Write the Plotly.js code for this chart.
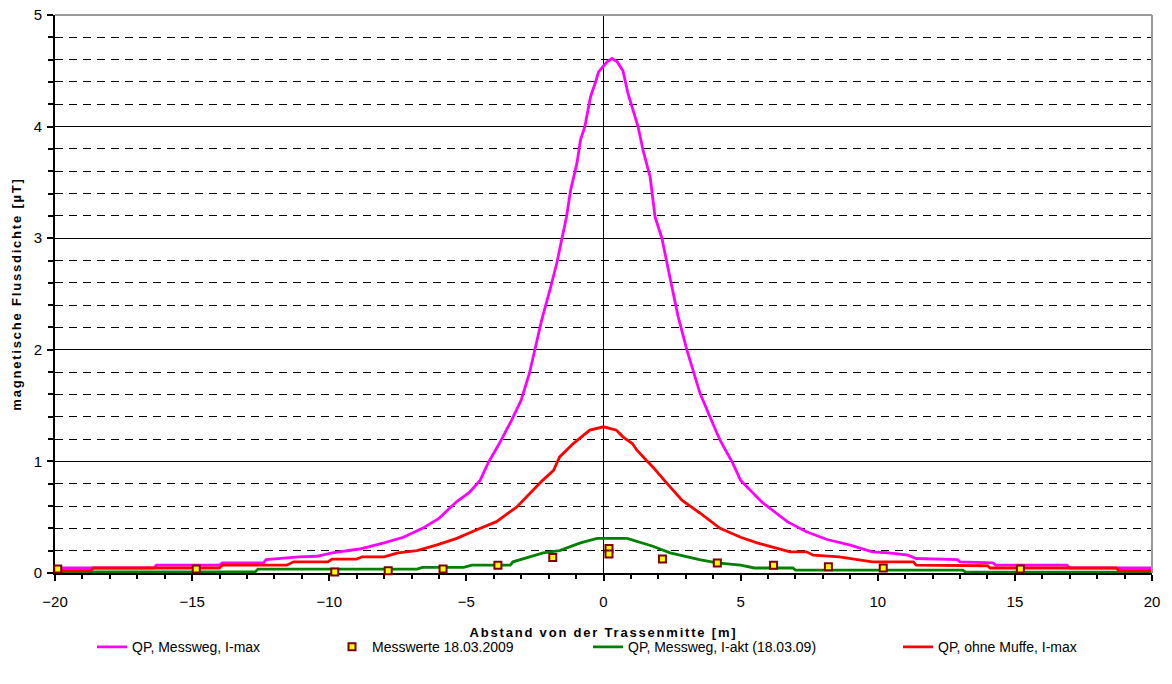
<!DOCTYPE html>
<html>
<head>
<meta charset="utf-8">
<script src="https://cdn.plot.ly/plotly-3.0.1.min.js"></script>
<style>
html,body{margin:0;padding:0;background:#fff;}
#chart{width:1172px;height:684px;}
#chart .xtitle, #chart .ytitle{letter-spacing:1.8px;}
</style>
</head>
<body>
<div id="chart"></div>
<script>
// Series names
const nameMagenta = "QP, Messweg, I-max";
const nameMeas = "Messwerte 18.03.2009";
const nameGreen = "QP, Messweg, I-akt (18.03.09)";
const nameRed = "QP, ohne Muffe, I-max";

// QP, Messweg, I-max
const xMagenta = [-20, -16.4, -16.3, -14, -13.9, -12.4, -12.3, -11.1, -10.45, -9.9, -8.9, -8.0, -7.3, -6.6, -6.0, -5.35, -4.9, -4.5, -4.2, -3.8, -3.35, -3.0, -2.7, -2.25, -1.95, -1.7, -1.35, -1.2, -0.97, -0.84, -0.68, -0.47, -0.3, -0.18, 0.13, 0.31, 0.5, 0.71, 0.89, 1.26, 1.44, 1.7, 1.88, 2.13, 2.42, 2.72, 3.04, 3.52, 3.88, 4.25, 4.72, 5.0, 5.8, 6.7, 7.4, 8.15, 9.0, 9.8, 10.4, 11.1, 11.4, 12.9, 13.0, 14.2, 14.3, 16.9, 17.0, 20];
const yMagenta = [0.045, 0.045, 0.07, 0.07, 0.09, 0.09, 0.12, 0.145, 0.15, 0.18, 0.215, 0.27, 0.32, 0.40, 0.49, 0.64, 0.72, 0.83, 0.99, 1.16, 1.37, 1.55, 1.79, 2.27, 2.54, 2.78, 3.19, 3.43, 3.67, 3.88, 4.0, 4.27, 4.39, 4.49, 4.58, 4.61, 4.58, 4.5, 4.3, 4.0, 3.79, 3.55, 3.19, 3.0, 2.65, 2.3, 2.0, 1.61, 1.40, 1.19, 0.98, 0.83, 0.63, 0.46, 0.37, 0.30, 0.25, 0.19, 0.18, 0.16, 0.13, 0.12, 0.10, 0.09, 0.07, 0.07, 0.045, 0.045];

// QP, ohne Muffe, I-max
const xRed = [-20, -18.7, -18.6, -14.0, -13.9, -11.55, -11.3, -10.05, -9.9, -9.0, -8.8, -8.0, -7.5, -6.8, -6.1, -5.35, -4.6, -3.9, -3.4, -3.17, -2.22, -1.82, -1.6, -1.1, -0.5, 0.0, 0.47, 0.71, 1.05, 1.22, 1.56, 1.8, 2.29, 2.87, 3.5, 4.25, 5.0, 5.6, 6.2, 6.8, 7.4, 7.65, 8.6, 9.8, 11.3, 11.4, 14.0, 14.1, 18.7, 18.8, 20];
const yRed = [0.02, 0.02, 0.045, 0.045, 0.07, 0.07, 0.10, 0.10, 0.125, 0.125, 0.145, 0.145, 0.18, 0.20, 0.25, 0.31, 0.39, 0.46, 0.55, 0.59, 0.83, 0.92, 1.04, 1.16, 1.28, 1.31, 1.28, 1.22, 1.16, 1.10, 1.01, 0.95, 0.81, 0.65, 0.54, 0.40, 0.32, 0.27, 0.23, 0.19, 0.19, 0.16, 0.145, 0.10, 0.10, 0.07, 0.065, 0.045, 0.045, 0.02, 0.02];

// QP, Messweg, I-akt (18.03.09)
const xGreen = [-20, -12.7, -12.6, -6.8, -6.6, -5.1, -4.8, -3.4, -3.3, -2.2, -1.6, -0.84, -0.23, 0.86, 1.8, 2.43, 3.5, 4.14, 5.0, 5.5, 6.9, 7.0, 13.1, 13.2, 20];
const yGreen = [0.01, 0.01, 0.035, 0.035, 0.05, 0.05, 0.07, 0.07, 0.10, 0.18, 0.20, 0.27, 0.31, 0.31, 0.24, 0.18, 0.12, 0.09, 0.07, 0.045, 0.045, 0.025, 0.025, 0.008, 0.008];

// Messwerte 18.03.2009
const xMeas = [-19.9, -14.85, -9.8, -7.85, -5.85, -3.85, -1.85, 0.2, 0.2, 2.15, 4.15, 6.2, 8.2, 10.2, 15.2];
const yMeas = [0.035, 0.035, 0.01, 0.02, 0.035, 0.07, 0.14, 0.22, 0.17, 0.125, 0.09, 0.07, 0.055, 0.045, 0.035];

const xTitle = "Abstand von der Trassenmitte [m]";
const yTitle = "magnetische Flussdichte [µT]";

const FONT = "Liberation Sans, Arial, sans-serif";

const traces = [
  {x: xMagenta, y: yMagenta, name: nameMagenta, mode: "lines", line: {color: "#FF00FF", width: 2.8}, legend: "legend", legendrank: 1},
  {x: xGreen, y: yGreen, name: nameGreen, mode: "lines", line: {color: "#008000", width: 2.8}, legend: "legend3", legendrank: 3},
  {x: xRed, y: yRed, name: nameRed, mode: "lines", line: {color: "#FF0000", width: 2.8}, legend: "legend4", legendrank: 4},
  {x: xMeas, y: yMeas, name: nameMeas, mode: "markers", cliponaxis: false,
   marker: {symbol: "square", size: 7, color: "#FFFF00", line: {color: "#800000", width: 2}}, legend: "legend2", legendrank: 2}
];

function lg(xpx) {
  return {x: (xpx - 55) / 1097, xanchor: "left", y: -0.133, yanchor: "middle", orientation: "h",
          bgcolor: "rgba(0,0,0,0)", borderwidth: 0, font: {family: FONT, size: 14, color: "#000"}};
}

const layout = {
  width: 1172, height: 684,
  margin: {l: 55, r: 20, t: 15, b: 111},
  paper_bgcolor: "#fff", plot_bgcolor: "#fff",
  font: {family: FONT, size: 14, color: "#000"},
  showlegend: true,
  legend: lg(92), legend2: lg(332), legend3: lg(588), legend4: lg(898),
  xaxis: {
    range: [-20, 20], dtick: 5, tick0: 0, showgrid: false,
    zeroline: true, zerolinecolor: "#000", zerolinewidth: 1,
    showline: true, linecolor: "#000", linewidth: 2, layer: "below traces",
    ticks: "outside", ticklen: 6, tickwidth: 2, tickcolor: "#000",
    minor: {dtick: 1, ticks: "outside", ticklen: 4, tickwidth: 2, tickcolor: "#000", showgrid: false},
    tickfont: {family: FONT, size: 15, color: "#000"},
    ticklabelstandoff: 8,
    title: {text: xTitle, font: {family: FONT, size: 13, color: "#000", weight: "bold"}, standoff: 19},
    fixedrange: true
  },
  yaxis: {
    range: [0, 5], dtick: 1, tick0: 0,
    showgrid: true, gridcolor: "#000", gridwidth: 1,
    zeroline: false,
    showline: true, linecolor: "#000", linewidth: 2, layer: "below traces",
    ticks: "outside", ticklen: 6, tickwidth: 2, tickcolor: "#000",
    minor: {dtick: 0.2, ticks: "outside", ticklen: 5, tickwidth: 2, tickcolor: "#000",
            showgrid: true, gridcolor: "#000", gridwidth: 1, griddash: "8px,6px"},
    tickfont: {family: FONT, size: 15, color: "#000"},
    ticklabelstandoff: 2,
    title: {text: yTitle, font: {family: FONT, size: 13, color: "#000", weight: "bold"}, standoff: 9},
    fixedrange: true
  },
  shapes: [
    {type: "line", xref: "paper", yref: "paper", x0: 0, x1: 1, y0: 1, y1: 1, line: {color: "#999", width: 2}},
    {type: "line", xref: "paper", yref: "paper", x0: 1, x1: 1, y0: 0, y1: 1, line: {color: "#999", width: 2}}
  ]
};

Plotly.newPlot("chart", traces, layout, {displayModeBar: false, staticPlot: true});
</script>
</body>
</html>
